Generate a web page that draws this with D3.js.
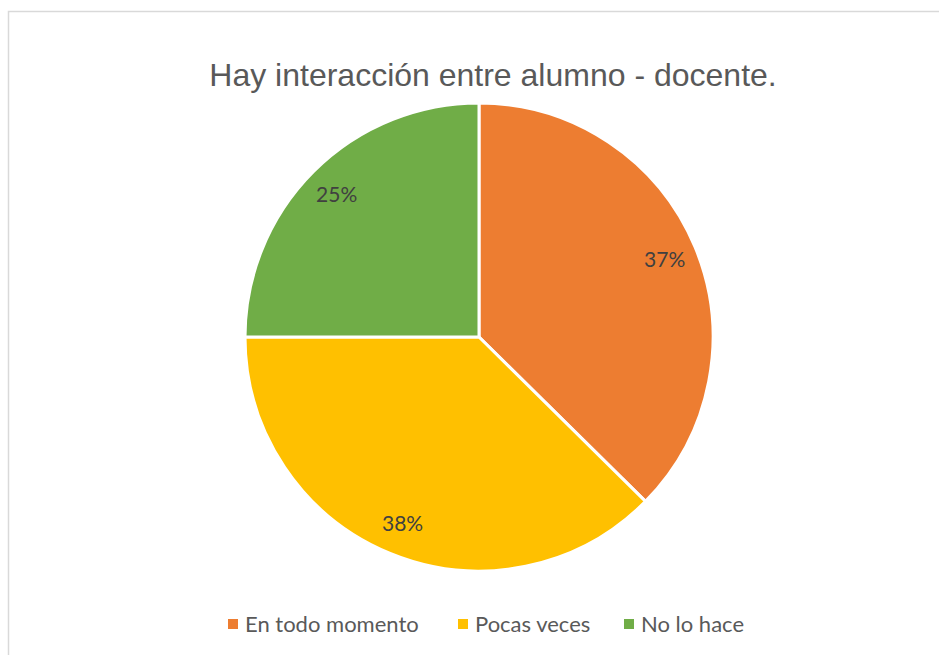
<!DOCTYPE html>
<html>
<head>
<meta charset="UTF-8">
<title>Hay interacción entre alumno - docente.</title>
<style>
    body {
        margin: 0;
        background: #ffffff;
    }
    .title {
        font: 32px "Liberation Sans", Arial, sans-serif;
        fill: #595959;
    }
    .label {
        font: 21px Lato, "Open Sans", sans-serif;
        fill: #404040;
    }
    .legend text {
        font: 22px Lato, "Open Sans", sans-serif;
        fill: #595959;
    }
</style>
</head>
<body>
<script src="https://d3js.org/d3.v7.min.js"></script>
<script>
    var categories = ["En todo momento", "Pocas veces", "No lo hace"];
    var values = [37.4, 37.6, 25];
    var colors = ["#ED7D31", "#FFC000", "#70AD47"];

    var width = 939, height = 655;
    var cx = 479, cy = 337, radius = 234;

    var svg = d3.select("body").append("svg")
            .attr("width", width)
            .attr("height", height);

    // chart area border (runs off the right and bottom)
    svg.append("rect")
            .attr("x", 8.5)
            .attr("y", 11.5)
            .attr("width", width + 20)
            .attr("height", height + 20)
            .attr("fill", "#fff")
            .attr("stroke", "#D9D9D9")
            .attr("stroke-width", 1.5);

    svg.append("text")
            .attr("class", "title")
            .attr("x", 493)
            .attr("y", 86)
            .attr("text-anchor", "middle")
            .text("Hay interacción entre alumno - docente.");

    var total = d3.sum(values);
    var pie = d3.pie().sort(null).value(function (d) { return d; });
    var arcs = pie(values);

    var arc = d3.arc().innerRadius(0).outerRadius(radius);
    var labelArc = d3.arc().innerRadius(radius * 0.86).outerRadius(radius * 0.86);

    var g = svg.append("g")
            .attr("transform", "translate(" + cx + "," + cy + ")");

    g.selectAll("path.slice")
            .data(arcs)
            .enter().append("path")
            .attr("class", "slice")
            .attr("d", arc)
            .attr("fill", function (d, i) { return colors[i]; })
            .attr("stroke", "#fff")
            .attr("stroke-width", 3)
            .attr("stroke-linejoin", "round");

    g.selectAll("text.label")
            .data(arcs)
            .enter().append("text")
            .attr("class", "label")
            .attr("transform", function (d) { return "translate(" + labelArc.centroid(d) + ")"; })
            .attr("text-anchor", "middle")
            .attr("dy", "0.35em")
            .text(function (d) { return Math.round(d.value / total * 100) + "%"; });

    // legend
    var legendX = [228, 458, 624];
    var legend = svg.append("g").attr("class", "legend");
    var items = legend.selectAll("g")
            .data(categories)
            .enter().append("g")
            .attr("transform", function (d, i) { return "translate(" + legendX[i] + ",624)"; });

    items.append("rect")
            .attr("x", 0)
            .attr("y", -5)
            .attr("width", 10)
            .attr("height", 10)
            .attr("fill", function (d, i) { return colors[i]; });

    items.append("text")
            .attr("x", 17)
            .attr("dy", "0.35em")
            .text(function (d) { return d; });
</script>
</body>
</html>
